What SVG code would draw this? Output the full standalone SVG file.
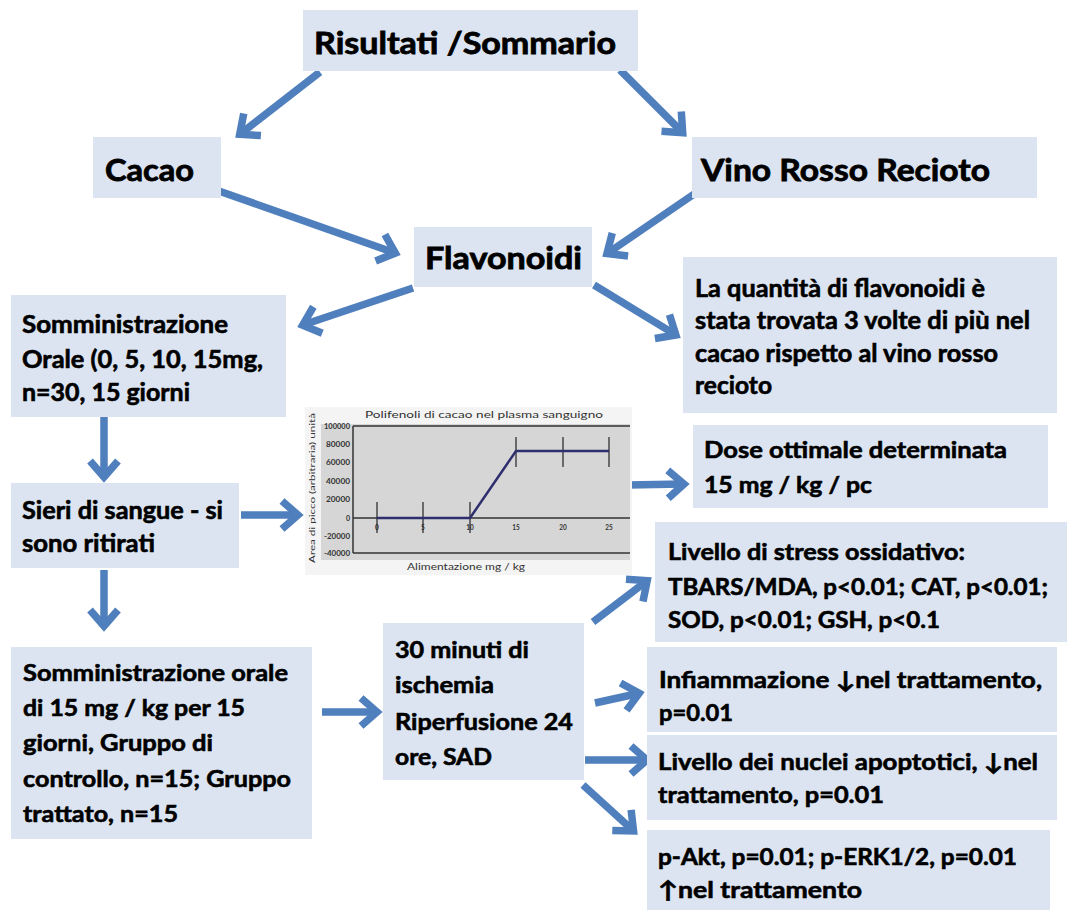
<svg xmlns="http://www.w3.org/2000/svg" width="1067" height="911" viewBox="0 0 1067 911">
<defs>
<style>
.box{fill:#dbe4f0;}
.t{font-family:Lato,"Open Sans","Liberation Sans",sans-serif;font-weight:bold;fill:#000;stroke:#000;stroke-width:0.6px;}
.t30{font-size:30px;stroke-width:0.8px;}
.t24{font-size:24px;}
.t23{font-size:23px;}
.con{stroke:#4f7fbd;stroke-width:7.5;fill:none;}
.ax{stroke:#333;stroke-width:1.5;fill:none;}
.eb{stroke:#222;stroke-width:1.2;fill:none;}
.ct{font-family:Lato,"Open Sans","Liberation Sans",sans-serif;fill:#333;}
</style>
<marker id="ah" markerUnits="userSpaceOnUse" markerWidth="38" markerHeight="38" viewBox="0 0 38 38" refX="28" refY="19" orient="auto">
<path d="M13,5 L29,19 L13,33" fill="none" stroke="#4f7fbd" stroke-width="7.5"/>
</marker>
</defs>
<rect width="1067" height="911" fill="#ffffff"/>

<g id="connectors">
<line class="con" x1="320" y1="72" x2="240.5" y2="133.7" marker-end="url(#ah)"/>
<line class="con" x1="620" y1="70" x2="682" y2="132" marker-end="url(#ah)"/>
<line class="con" x1="216" y1="190" x2="394.4" y2="252.7" marker-end="url(#ah)"/>
<line class="con" x1="700" y1="190" x2="607.8" y2="253" marker-end="url(#ah)"/>
<line class="con" x1="413" y1="288" x2="303.6" y2="324.8" marker-end="url(#ah)"/>
<line class="con" x1="594" y1="285" x2="675" y2="334.4" marker-end="url(#ah)"/>
<line class="con" x1="104" y1="417" x2="104" y2="476" marker-end="url(#ah)"/>
<line class="con" x1="241" y1="515" x2="297" y2="515" marker-end="url(#ah)"/>
<line class="con" x1="628" y1="485" x2="683" y2="484" marker-end="url(#ah)"/>
<line class="con" x1="104" y1="570" x2="104" y2="625" marker-end="url(#ah)"/>
<line class="con" x1="322" y1="712" x2="376" y2="712" marker-end="url(#ah)"/>
<line class="con" x1="593" y1="622" x2="646.4" y2="581.2" marker-end="url(#ah)"/>
<line class="con" x1="595" y1="703" x2="638.2" y2="693.5" marker-end="url(#ah)"/>
<line class="con" x1="585" y1="760" x2="646" y2="760" marker-end="url(#ah)"/>
<line class="con" x1="583" y1="785" x2="632.8" y2="830.3" marker-end="url(#ah)"/>
</g>

<g id="n_risultati">
<rect class="box" x="303" y="10" width="335" height="61"/>
<text class="t t30" x="314" y="54" font-size="31" textLength="302" lengthAdjust="spacingAndGlyphs">Risultati /Sommario</text>
</g>

<g id="n_cacao">
<rect class="box" x="93" y="137" width="128" height="61"/>
<text class="t t30" x="105" y="181" textLength="89" lengthAdjust="spacingAndGlyphs">Cacao</text>
</g>

<g id="n_vino">
<rect class="box" x="692" y="137" width="345" height="61"/>
<text class="t t30" x="701" y="181" textLength="289" lengthAdjust="spacingAndGlyphs">Vino Rosso Recioto</text>
</g>

<g id="n_flavonoidi">
<rect class="box" x="414" y="227" width="178" height="60"/>
<text class="t t30" x="425" y="269" textLength="157" lengthAdjust="spacingAndGlyphs">Flavonoidi</text>
</g>

<g id="n_quantita">
<rect class="box" x="683" y="257" width="374" height="156"/>
<text class="t t24" x="695" y="297" textLength="290" lengthAdjust="spacingAndGlyphs">La quantità di flavonoidi è</text>
<text class="t t24" x="695" y="329" textLength="335" lengthAdjust="spacingAndGlyphs">stata trovata 3 volte di più nel</text>
<text class="t t24" x="695" y="362" textLength="303" lengthAdjust="spacingAndGlyphs">cacao rispetto al vino rosso</text>
<text class="t t24" x="695" y="394" textLength="77" lengthAdjust="spacingAndGlyphs">recioto</text>
</g>

<g id="n_orale1">
<rect class="box" x="11" y="295" width="275" height="122"/>
<text class="t t24" x="22" y="333" textLength="206" lengthAdjust="spacingAndGlyphs">Somministrazione</text>
<text class="t t24" x="22" y="368" textLength="241" lengthAdjust="spacingAndGlyphs">Orale (0, 5, 10, 15mg,</text>
<text class="t t24" x="22" y="401" textLength="168" lengthAdjust="spacingAndGlyphs">n=30, 15 giorni</text>
</g>

<g id="n_chart">
<rect x="305" y="407" width="327" height="168" fill="#f4f4f4"/>
<rect x="321" y="424" width="309" height="136" fill="#d6d6d6"/>
<text class="ct" x="484" y="418" font-size="9.5" text-anchor="middle" textLength="238" lengthAdjust="spacingAndGlyphs">Polifenoli di cacao nel plasma sanguigno</text>
<text class="ct" transform="translate(315,488) rotate(-90)" font-size="8" text-anchor="middle" textLength="150" lengthAdjust="spacingAndGlyphs">Area di picco (arbitraria) unità</text>
<line class="ax" x1="353" y1="426" x2="630" y2="426"/>
<line class="ax" x1="353" y1="553" x2="630" y2="553"/>
<line class="ax" x1="353" y1="426" x2="353" y2="553"/>
<line class="ax" x1="353" y1="518" x2="630" y2="518"/>
<g class="ct" font-size="7" font-weight="bold" text-anchor="end" fill="#111">
<text x="350" y="429" textLength="26" lengthAdjust="spacingAndGlyphs">100000</text>
<text x="350" y="447" textLength="24" lengthAdjust="spacingAndGlyphs">80000</text>
<text x="350" y="465" textLength="24" lengthAdjust="spacingAndGlyphs">60000</text>
<text x="350" y="484" textLength="24" lengthAdjust="spacingAndGlyphs">40000</text>
<text x="350" y="502" textLength="24" lengthAdjust="spacingAndGlyphs">20000</text>
<text x="350" y="521">0</text>
<text x="350" y="539" textLength="26" lengthAdjust="spacingAndGlyphs">-20000</text>
<text x="350" y="556" textLength="26" lengthAdjust="spacingAndGlyphs">-40000</text>
</g>
<g class="ct" font-size="6.5" font-weight="bold" text-anchor="middle" fill="#222">
<text x="377" y="530">0</text>
<text x="423" y="530">5</text>
<text x="470" y="530">10</text>
<text x="516" y="530">15</text>
<text x="563" y="530">20</text>
<text x="609" y="530">25</text>
</g>
<line class="eb" x1="377" y1="502" x2="377" y2="533"/>
<line class="eb" x1="423" y1="502" x2="423" y2="533"/>
<line class="eb" x1="470" y1="502" x2="470" y2="533"/>
<line class="eb" x1="516" y1="437" x2="516" y2="467"/>
<line class="eb" x1="563" y1="437" x2="563" y2="467"/>
<line class="eb" x1="609" y1="437" x2="609" y2="467"/>
<polyline points="377,518 423,518 470,518 516,451 563,451 609,451" fill="none" stroke="#2e2f6e" stroke-width="2.5"/>
<text class="ct" x="466" y="570" font-size="8.5" text-anchor="middle" textLength="118" lengthAdjust="spacingAndGlyphs">Alimentazione mg / kg</text>
</g>

<g id="n_dose">
<rect class="box" x="693" y="425" width="355" height="83"/>
<text class="t t23" x="704" y="458" textLength="303" lengthAdjust="spacingAndGlyphs">Dose ottimale determinata</text>
<text class="t t23" x="704" y="493" textLength="168" lengthAdjust="spacingAndGlyphs">15 mg / kg / pc</text>
</g>

<g id="n_sieri">
<rect class="box" x="11" y="483" width="228" height="85"/>
<text class="t t24" x="22" y="519" textLength="201" lengthAdjust="spacingAndGlyphs">Sieri di sangue - si</text>
<text class="t t24" x="22" y="552" textLength="133" lengthAdjust="spacingAndGlyphs">sono ritirati</text>
</g>

<g id="n_stress">
<rect class="box" x="655" y="522" width="412" height="120"/>
<text class="t t23" x="668" y="560" textLength="297" lengthAdjust="spacingAndGlyphs">Livello di stress ossidativo:</text>
<text class="t t23" x="668" y="595" textLength="380" lengthAdjust="spacingAndGlyphs">TBARS/MDA, p&lt;0.01; CAT, p&lt;0.01;</text>
<text class="t t23" x="668" y="628" textLength="272" lengthAdjust="spacingAndGlyphs">SOD, p&lt;0.01; GSH, p&lt;0.1</text>
</g>

<g id="n_orale2">
<rect class="box" x="11" y="647" width="301" height="192"/>
<text class="t t23" x="23" y="681" textLength="265" lengthAdjust="spacingAndGlyphs">Somministrazione orale</text>
<text class="t t23" x="23" y="716" textLength="222" lengthAdjust="spacingAndGlyphs">di 15 mg / kg per 15</text>
<text class="t t23" x="23" y="751" textLength="190" lengthAdjust="spacingAndGlyphs">giorni, Gruppo di</text>
<text class="t t23" x="23" y="787" textLength="268" lengthAdjust="spacingAndGlyphs">controllo, n=15; Gruppo</text>
<text class="t t23" x="23" y="822" textLength="155" lengthAdjust="spacingAndGlyphs">trattato, n=15</text>
</g>

<g id="n_ischemia">
<rect class="box" x="383" y="623" width="201" height="157"/>
<text class="t t23" x="395" y="658" textLength="134" lengthAdjust="spacingAndGlyphs">30 minuti di</text>
<text class="t t23" x="395" y="693" textLength="99" lengthAdjust="spacingAndGlyphs">ischemia</text>
<text class="t t23" x="395" y="730" textLength="178" lengthAdjust="spacingAndGlyphs">Riperfusione 24</text>
<text class="t t23" x="395" y="765" textLength="97" lengthAdjust="spacingAndGlyphs">ore, SAD</text>
</g>

<g id="n_infiammazione">
<rect class="box" x="647" y="647" width="410" height="85"/>
<text class="t t23" x="659" y="688" textLength="383" lengthAdjust="spacingAndGlyphs">Infiammazione ↓nel trattamento,</text>
<text class="t t23" x="659" y="721" textLength="74" lengthAdjust="spacingAndGlyphs">p=0.01</text>
</g>

<g id="n_nuclei">
<rect class="box" x="647" y="735" width="410" height="85"/>
<text class="t t23" x="658" y="770" textLength="380" lengthAdjust="spacingAndGlyphs">Livello dei nuclei apoptotici, ↓nel</text>
<text class="t t23" x="658" y="803" textLength="226" lengthAdjust="spacingAndGlyphs">trattamento, p=0.01</text>
</g>

<g id="n_pakt">
<rect class="box" x="647" y="830" width="403" height="80"/>
<text class="t t23" x="658" y="865" textLength="359" lengthAdjust="spacingAndGlyphs">p-Akt, p=0.01; p-ERK1/2, p=0.01</text>
<text class="t t23" x="658" y="898" textLength="204" lengthAdjust="spacingAndGlyphs">↑nel trattamento</text>
</g>
</svg>
